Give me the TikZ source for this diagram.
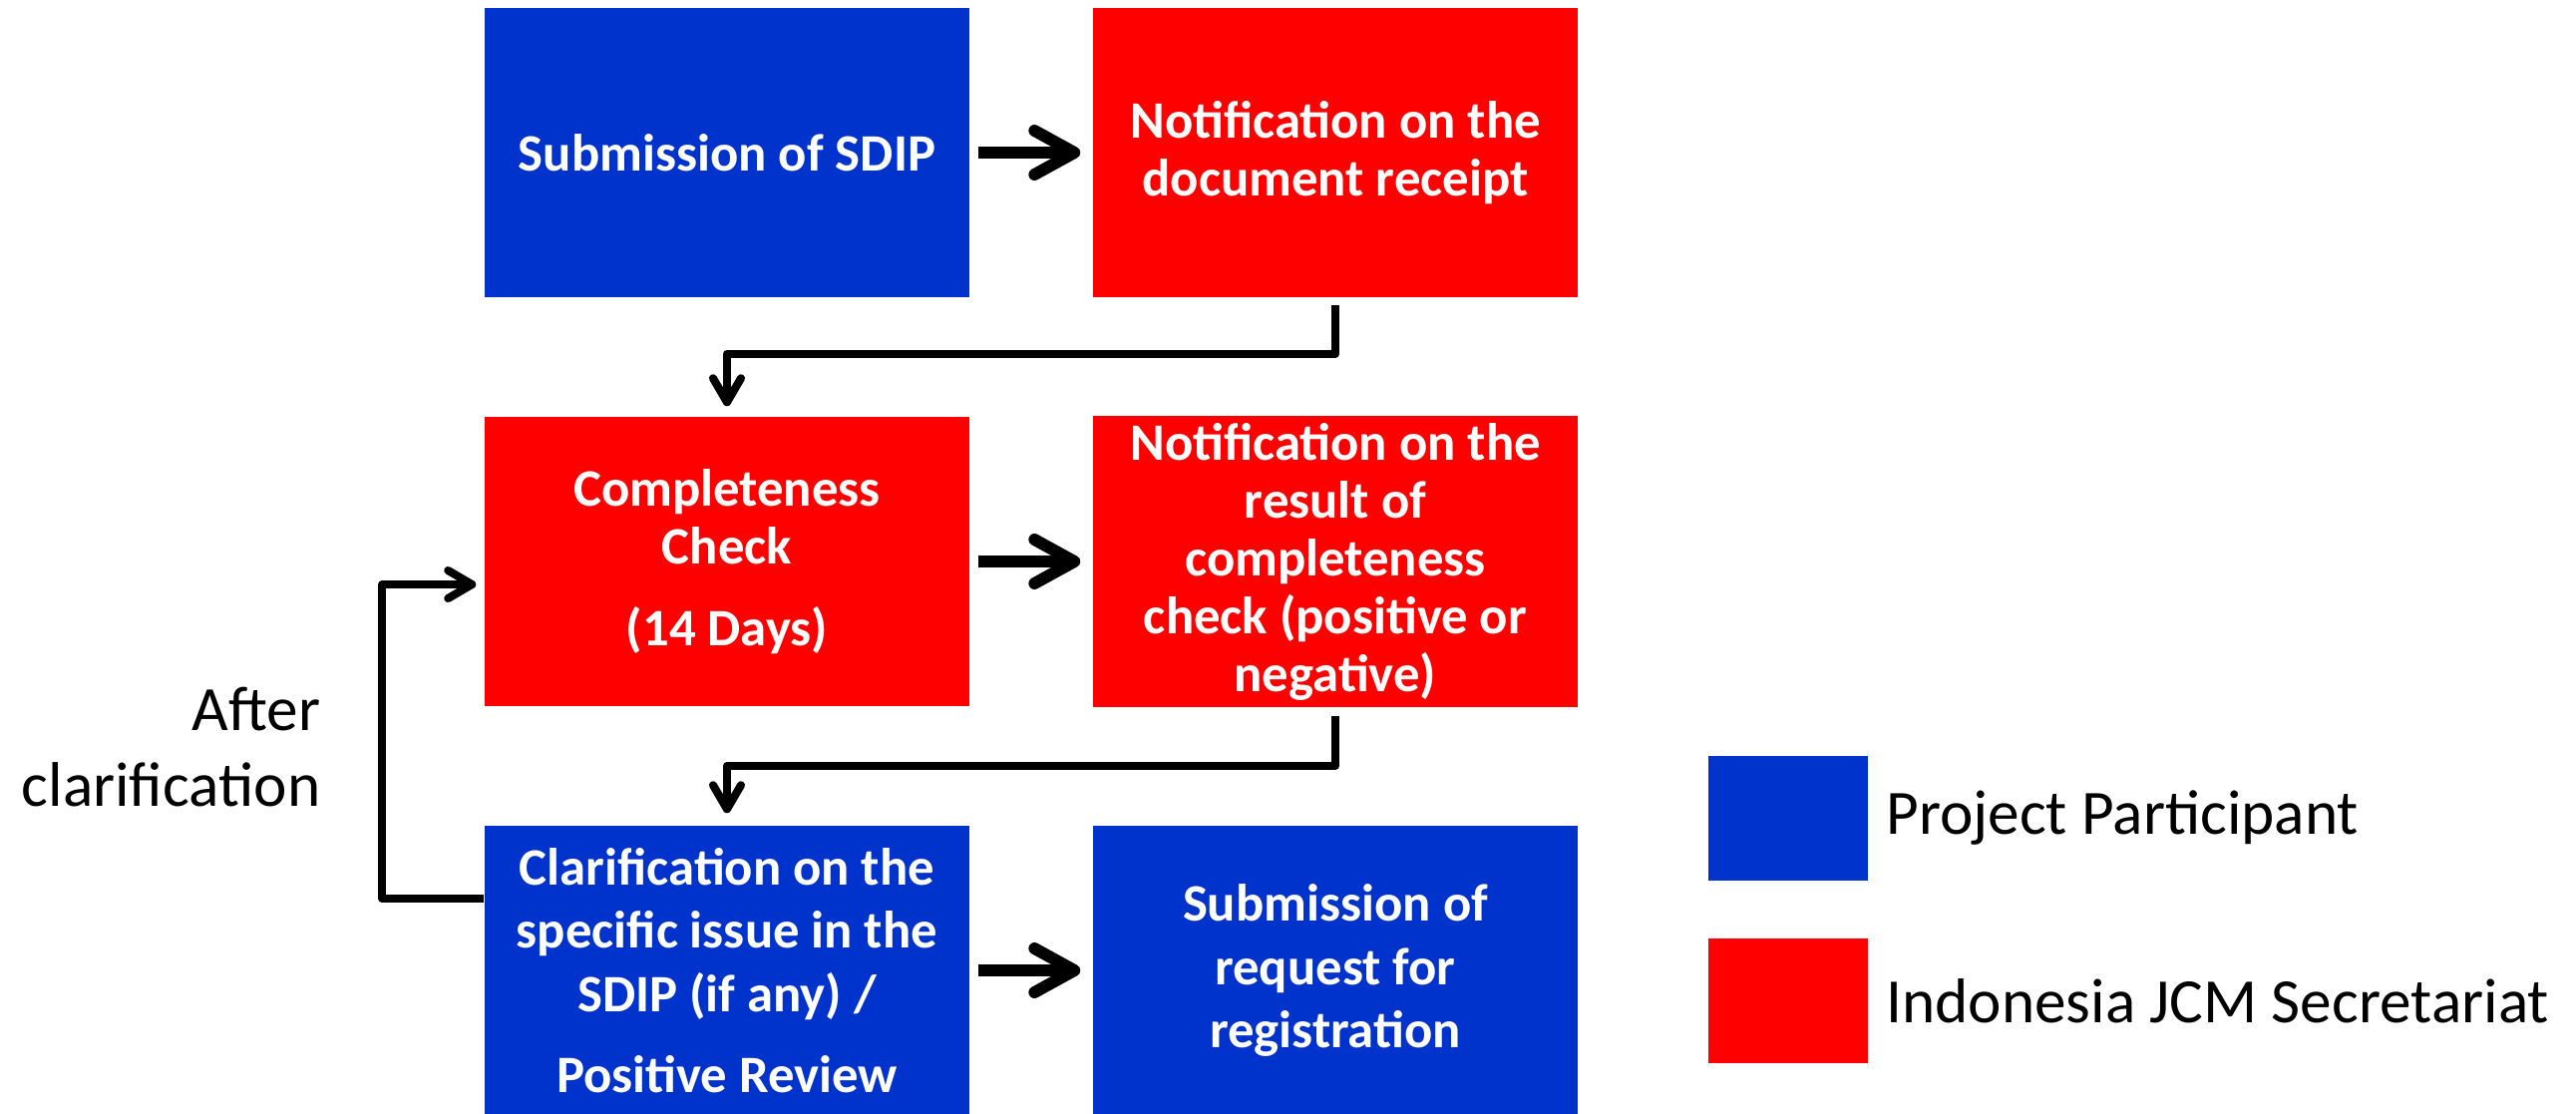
\documentclass[tikz,border=0pt]{standalone}
\usepackage{fontspec}
\setmainfont{Carlito}
\usetikzlibrary{arrows.meta,positioning,calc}
\definecolor{ppblue}{RGB}{0,51,204}
\definecolor{jcmred}{RGB}{255,0,0}
\tikzset{
  % boxes of the procedure
  stepbox/.style={rectangle, fill=#1, draw=none, text=white, inner sep=2pt,
    minimum width=4.86cm, minimum height=2.9cm, align=center,
    font=\fontsize{15}{16.5}\selectfont\bfseries},
  loose/.style={font=\fontsize{15}{18}\selectfont\bfseries},
  % legend
  keybox/.style={rectangle, fill=#1, draw=none, minimum width=1.6cm, minimum height=1.25cm},
  keytext/.style={inner sep=0pt, font=\fontsize{18}{21.6}\selectfont},
  % connectors
  big arrow/.style={line width=3.4pt,
    -{Straight Barb[round, length=0.4cm, width=0.44cm]}, shorten <=0.08cm, shorten >=0.12cm},
  link/.style={line width=2.3pt, line join=round,
    -{Straight Barb[round, length=0.24cm, width=0.28cm]}},
}
\begin{document}
\begin{tikzpicture}
    \useasboundingbox (0,0) rectangle (25.83,-11.17);

    \node[stepbox=ppblue] (sub) at (7.29,-1.53) {Submission of SDIP};
    \node[stepbox=jcmred] (notif) at (13.39,-1.53) {Notification on the\\document receipt};

    \node[stepbox=jcmred] (check) at (7.29,-5.63) {Completeness\\Check\\[7pt](14 Days)};
    \node[stepbox=jcmred] (result) at (13.39,-5.63) {Notification on the\\result of\\completeness\\check (positive or\\negative)};

    \node[stepbox=ppblue, loose] (clar) at (7.29,-9.73) {Clarification on the\\specific issue in the\\SDIP (if any) /\\[5pt]Positive Review};
    \node[stepbox=ppblue, loose] (req) at (13.39,-9.73) {Submission of\\request for\\registration};

    \draw[big arrow] (sub) -- (notif);
    \draw[big arrow] (check) -- (result);
    \draw[big arrow] (clar) -- (req);

    \draw[link] ([yshift=-0.07cm]notif.south) -- ++(0,-0.49) -| ([yshift=0.1cm]check.north);
    \draw[link] ([yshift=-0.08cm]result.south) -- ++(0,-0.5) -| ([yshift=0.12cm]clar.north);
    %\draw[link] (clar.west) -- ++(-1,0) |- (check.west);
    \draw[link] ([yshift=0.72cm]clar.west) -- ++(-1.02,0) |- ([xshift=-0.08cm,yshift=-0.23cm]check.west);
    \node[keytext, align=right, anchor=east] (after) at (3.22,-7.49) {After\\clarification};

    \node[keybox=ppblue] (ppkey) at (17.93,-8.205) {};
    \node[keybox=jcmred] (jcmkey) at (17.93,-10.035) {};
    \node[keytext, right=0.17cm of ppkey] (pptext) {Project Participant};
    \node[keytext, right=0.17cm of jcmkey] (jcmtext) {Indonesia JCM Secretariat};
\end{tikzpicture}
\end{document}
